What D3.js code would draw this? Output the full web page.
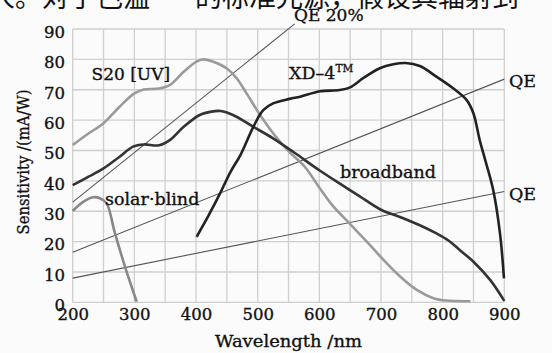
<!DOCTYPE html>
<html><head><meta charset="utf-8">
<script src="https://cdn.jsdelivr.net/npm/d3@7"></script>
<style>body{margin:0;background:#fbfbfb}svg{display:block}</style>
</head><body>
<svg id="c" width="552" height="353"></svg>
<script>
const xTicks=[200,300,400,500,600,700,800,900];
const yTicks=[0,10,20,30,40,50,60,70,80,90];
const s20=[[200,51.8],[225,55.5],[250,59],[276,64.4],[300,68.8],[315,70.1],[340,70.4],[358,71.6],[380,75.9],[400,79.2],[412,80],[428,79.2],[450,77],[466,73.8],[482,68.8],[504,61.7],[525,55.7],[550,49.8],[577,44.5],[601,37.5],[623,31.5],[650,25.8],[677,20],[704,14],[731,8.5],[758,4.1],[785,1.4],[806,0.6],[845,0.4]];
const broadband=[[200,38.6],[225,41.3],[250,44.1],[275,47.8],[298,51.3],[315,52],[340,51.7],[358,53.5],[380,57.8],[406,61.7],[425,62.8],[440,63],[460,61.7],[493,57.8],[525,54],[558,49.5],[600,43.5],[634,39],[665,35],[700,30.5],[735,27.8],[763,25.4],[790,22.7],[810,20.3],[828,17.2],[850,13.4],[877,7.4],[900,0.5]];
const xd4=[[401,21.6],[420,28.5],[439,35.9],[456,43],[472,48.5],[493,57.8],[509,63.3],[525,65.5],[552,67],[569,67.7],[601,69.5],[633,69.9],[650,70.8],[671,73.8],[698,77.1],[720,78.4],[740,78.8],[763,77.8],[790,74.3],[817,70.5],[839,66.6],[850,62.2],[860,53.5],[869,46.9],[882,37],[893,22.7],[899.5,7.9]];
const solarBlind=[[200,30.1],[217,33.1],[233,34.6],[244,34.3],[255,32.6],[268.6,22.7],[284.8,11.8],[303.8,0.2]];
const qe20=[[200,33],[560,91.7]];
const qe10=[[200,16.5],[900,73.5]];
const qe5=[[200,8],[900,36.5]];

const svg=d3.select('#c');
svg.append('rect').attr('width',552).attr('height',353).attr('fill','#fbfbfb');
const x=d3.scaleLinear([200,900],[72.7,504.3]);
const y=d3.scaleLinear([0,90],[302.4,29]);
const serif='DejaVu Serif';
const ink='#111';
const heavy=sel=>sel.attr('stroke',ink).attr('stroke-width',0.35);

// grid
const g=svg.append('g');
g.selectAll('line.v').data(d3.range(200,901,50)).join('line')
 .attr('x1',d=>x(d)).attr('x2',d=>x(d)).attr('y1',y(0)).attr('y2',y(90))
 .attr('stroke','#cfcfcf').attr('stroke-width',1.3);
g.selectAll('line.h').data(yTicks).join('line')
 .attr('x1',x(200)).attr('x2',x(900)).attr('y1',d=>y(d)).attr('y2',d=>y(d))
 .attr('stroke','#cfcfcf').attr('stroke-width',1.3);

// axes labels
const ax=svg.append('g').attr('transform',`translate(0,${y(0)})`).call(d3.axisBottom(x).tickValues(xTicks).tickSize(0).tickPadding(0));
ax.select('.domain').remove();
ax.selectAll('text').attr('font-family',serif).attr('font-size',16.5).attr('fill',ink).attr('dy',null).attr('y',18).call(heavy);
const ay=svg.append('g').attr('transform',`translate(65,0)`).call(d3.axisLeft(y).tickValues(yTicks).tickSize(0).tickPadding(0));
ay.select('.domain').remove();
ay.selectAll('text').attr('font-family',serif).attr('font-size',16.5).attr('fill',ink).attr('dy','0.5em').call(heavy);

svg.append('text').attr('x',288.5).attr('y',347).attr('text-anchor','middle')
 .attr('font-family',serif).attr('font-size',17.5).attr('fill',ink)
 .attr('textLength',147).attr('lengthAdjust','spacingAndGlyphs').text('Wavelength /nm').call(heavy);
svg.append('text').attr('transform','translate(29,162) rotate(-90)').attr('text-anchor','middle')
 .attr('font-family',serif).attr('font-size',17.5).attr('fill',ink)
 .attr('textLength',145).attr('lengthAdjust','spacingAndGlyphs').text('Sensitivity /(mA/W)').call(heavy);

// QE lines
const lin=d3.line().x(d=>x(d[0])).y(d=>y(d[1]));
[qe20,qe10,qe5].forEach(d=>svg.append('path').attr('d',lin(d)).attr('fill','none').attr('stroke','#555').attr('stroke-width',1.1));

// curves
const cur=d3.line().x(d=>x(d[0])).y(d=>y(d[1])).curve(d3.curveCatmullRom.alpha(0.5));
const series=[[s20,'#9a9a9a',2.6],[solarBlind,'#888',2.6],[broadband,'#333',2.6],[xd4,'#222',2.6]];
series.forEach(([d,c,w])=>svg.append('path').attr('d',cur(d)).attr('fill','none').attr('stroke',c).attr('stroke-width',w).attr('stroke-linejoin','round'));

// labels
const lab=(t,px,py,fs)=>svg.append('text').attr('x',px).attr('y',py).attr('font-family',serif).attr('font-size',fs||17.5).attr('fill',ink).text(t).call(heavy);
lab('S20 [UV]',91.5,79.5,17);
const xdt=lab('XD\u20134',289,78.5,17.5);
xdt.append('tspan').attr('font-size',10.5).attr('dy',-7).text('TM');
lab('broadband',340,178,17.5);
lab('solar\u00b7blind',105,204.5,17.5);
lab('QE 20%',294,20.5,17);
lab('QE',509,86.5,17.5);
lab('QE',509,199.5,17.5);

// clipped text line at the top
const cjk='Noto Sans CJK SC';
svg.append('text').attr('x',150).attr('y',6.5).attr('text-anchor','end').attr('font-family',cjk).attr('font-size',27).attr('fill',ink).text('人。对于色温');
svg.append('text').attr('x',195).attr('y',6.5).attr('font-family',cjk).attr('font-size',27).attr('fill',ink).text('的标准光源，假设其辐射到');
</script>
</body></html>
